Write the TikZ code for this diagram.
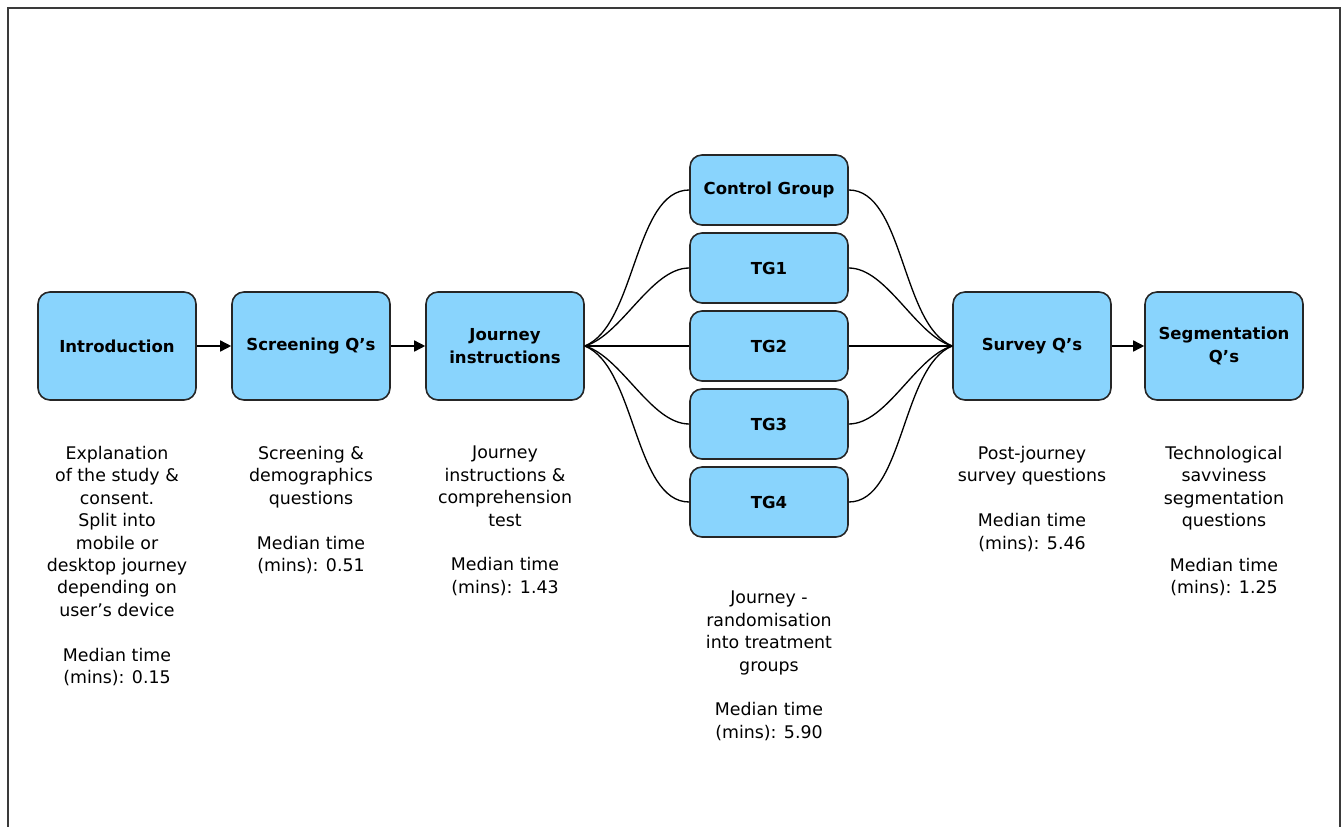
\documentclass[tikz,border=0pt]{standalone}
\usepackage{fontspec}
\setmainfont{DejaVu Sans}
\usepackage{tikz}
\usetikzlibrary{positioning}
\usetikzlibrary{arrows.meta}

\definecolor{boxblue}{HTML}{89D4FD}
\definecolor{framegray}{HTML}{3A3A3A}

\tikzset{
    stage/.style={draw=black!85, line width=0.9pt, fill=boxblue, rounded corners=0.24cm,
        minimum width=3.16cm, minimum height=2.16cm, align=center,
        font=\fontsize{9.4}{12.7}\selectfont\bfseries},
    group/.style={stage, minimum height=1.40cm},
    note/.style={anchor=north, inner sep=0pt, align=center,
        font=\fontsize{9.9}{12.76}\selectfont},
    flow/.style={line width=0.85pt, -{Triangle[length=0.22cm,width=0.22cm]}},
    split/.style={line width=0.75pt, looseness=0.75}
}

\begin{document}
\begin{tikzpicture}
    \useasboundingbox (0,0) rectangle (26.86,-16.54);

    % Frame (open at the bottom)
    \draw[framegray, line width=0.85pt] (0.16,-16.54) -- (0.16,-0.16) -- (26.80,-0.16) -- (26.80,-16.54);

    % Main stages
    \node[stage] (intro) at (2.34,-6.92) {Introduction};
    \node[stage] (screen) at (6.22,-6.92) {Screening Q's};
    \node[stage] (instr) at (10.10,-6.92) {Journey\\instructions};
    \node[stage] (survey) at (20.64,-6.92) {Survey Q's};
    \node[stage] (segment) at (24.48,-6.92) {Segmentation\\Q's};

    % Treatment groups
    \node[group] (cg) at (15.38,-3.80) {Control Group};
    \node[group] (tg1) at (15.38,-5.36) {TG1};
    \node[group] (tg2) at (15.38,-6.92) {TG2};
    \node[group] (tg3) at (15.38,-8.48) {TG3};
    \node[group] (tg4) at (15.38,-10.04) {TG4};

    % Arrows between stages
    \draw[flow] (intro) -- (screen);
    \draw[flow] (screen) -- (instr);
    \draw[flow] (survey) -- (segment);

    % Fan out and back in
    \foreach \g/\a in {cg/22,tg1/16,tg2/0,tg3/-16,tg4/-22} {
        \draw[split] (instr.east) to[out=\a, in=180] (\g.west);
        \draw[split] (\g.east) to[out=0, in=180-\a] (survey.west);
    }

    % Notes under the stages
    \node[note, below=0.9cm of intro] (introtxt) {Explanation\\of the study \&\\consent.\\Split into\\mobile or\\desktop journey\\depending on\\user’s device\\[12.76pt]Median time\\(mins): 0.15};
    \node[note, below=0.9cm of screen] (screentxt) {Screening \&\\demographics\\questions\\[12.76pt]Median time\\(mins): 0.51};
    \node[note, below=0.9cm of instr] (instrtxt) {Journey\\instructions \&\\comprehension\\test\\[12.76pt]Median time\\(mins): 1.43};
    \node[note, below=1.06cm of tg4] (grouptxt) {Journey -\\randomisation\\into treatment\\groups\\[12.76pt]Median time\\(mins): 5.90};
    \node[note, below=0.9cm of survey] (surveytxt) {Post-journey\\survey questions\\[12.76pt]Median time\\(mins): 5.46};
    \node[note, below=0.9cm of segment] (segmenttxt) {Technological\\savviness\\segmentation\\questions\\[12.76pt]Median time\\(mins): 1.25};
\end{tikzpicture}
\end{document}
